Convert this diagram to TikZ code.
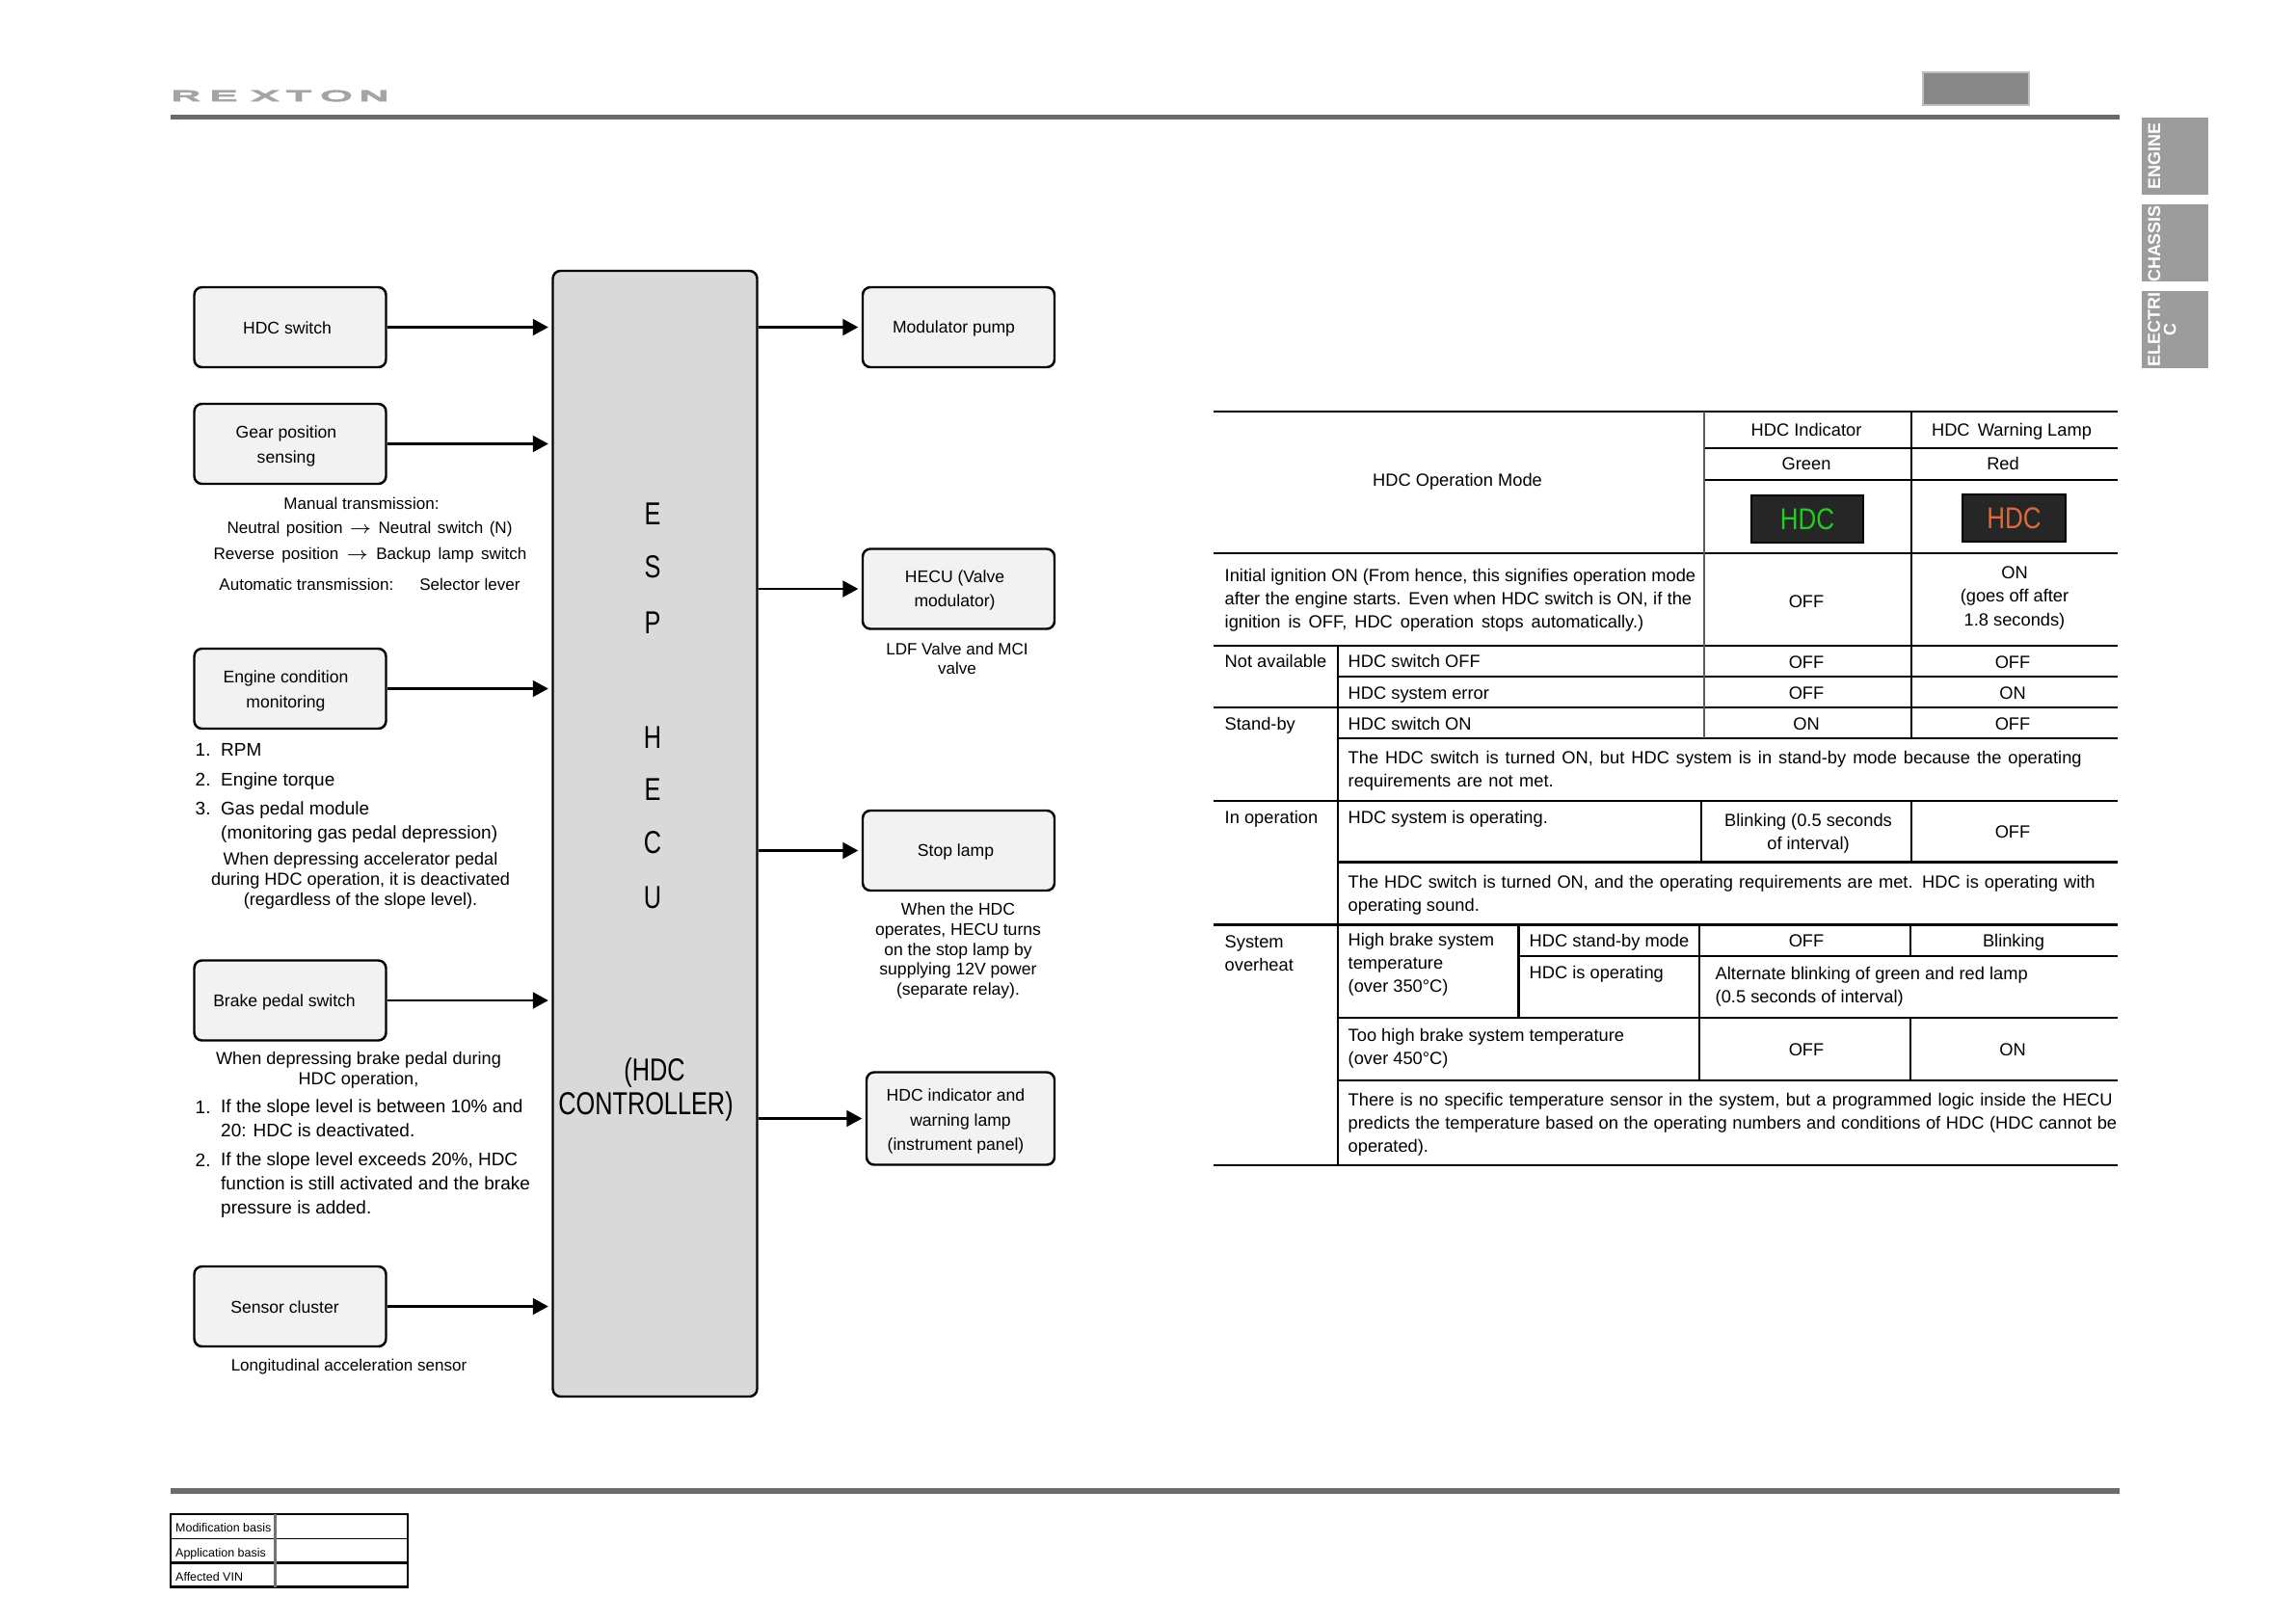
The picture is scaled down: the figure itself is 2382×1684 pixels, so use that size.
\documentclass[tikz,border=0pt]{standalone}
\usepackage{fontspec}
\usetikzlibrary{arrows.meta}
\setmainfont{Liberation Sans}
\newfontfamily\logofont[FakeBold=7]{Liberation Sans}
\definecolor{barcol}{HTML}{6B6B6B}
\definecolor{tabcol}{HTML}{9C9C9C}
\definecolor{logocol}{HTML}{A4A4A4}
\definecolor{unitcol}{HTML}{F2F2F2}
\definecolor{espcol}{HTML}{D9D9D9}
\definecolor{lampcol}{HTML}{262626}
\definecolor{grncol}{HTML}{22CC22}
\definecolor{redcol}{HTML}{DC6A3C}
\newcommand{\tallbox}[1]{\scalebox{1}[1.3]{#1}}
\newcommand{\fitline}[2]{\makebox[#1][s]{#2}}
\newcommand{\boxtop}[1]{\rule{0pt}{#1}}
\tikzset{
  unitbox/.style = {draw, fill=unitcol, line width=.7pt, rounded corners=.8mm, inner sep=0pt,
    minimum width=19.9mm, minimum height=8.3mm, align=center, font=\fontsize{5}{7.2}\selectfont},
  flow/.style = {line width=.6pt, -{Triangle[length=1.6mm, width=1.7mm]}, shorten >=.35mm},
  note/.style = {inner sep=0pt, align=center, font=\fontsize{5.15}{5.9}\selectfont},
  smallnote/.style = {note, font=\fontsize{4.85}{5.9}\selectfont},
  listtxt/.style = {inner sep=0pt, anchor=mid west, yshift=.2mm, font=\fontsize{5.4}{7.1}\selectfont},
  listblk/.style = {inner sep=0pt, anchor=west, align=left, font=\fontsize{5.4}{7.1}\selectfont},
  bigltr/.style = {inner sep=0pt, font=\fontsize{7.2}{9}\selectfont},
  celltxt/.style = {inner sep=0pt, anchor=mid west, yshift=.2mm, font=\fontsize{5.2}{6.83}\selectfont},
  cellblk/.style = {inner sep=0pt, anchor=west, align=left, font=\fontsize{5.2}{6.83}\selectfont},
  cellmid/.style = {inner sep=0pt, anchor=mid, yshift=.2mm, font=\fontsize{5.2}{6.83}\selectfont},
  cellmidblk/.style = {inner sep=0pt, align=center, font=\fontsize{5.2}{6.83}\selectfont},
  hrule/.style = {line width=.8pt},
  vrule/.style = {line width=.6pt},
  grayrule/.style = {line width=.5pt, draw=black!65},
  sidetab/.style = {fill=tabcol, draw=none, inner sep=0pt, minimum width=6.9mm, minimum height=8mm},
  tabtxt/.style = {inner sep=0pt, text=white, rotate=90, align=center, font=\fontsize{5.1}{4.7}\selectfont\bfseries},
  logoltr/.style = {inner sep=0pt, text=logocol, font=\fontsize{4.5}{5}\logofont},
  lampbox/.style = {fill=lampcol, draw=black, line width=.5pt, inner sep=0pt, font=\fontsize{7.4}{9}\selectfont},
  vintxt/.style = {inner sep=0pt, anchor=mid west, font=\fontsize{3.55}{4}\selectfont}
}
\begin{document}
\begin{tikzpicture}[x=.1mm, y=-.1mm]
  \useasboundingbox (0,0) rectangle (2382,1684);

  \fill[barcol] (177,118.5) rectangle (2199,124);
  \fill[barcol] (177,1544) rectangle (2199,1550);
  \draw[fill=black!47, draw=black!25, line width=.5pt] (1995,75) rectangle (2105,109);
  \foreach \ltr/\xx [count=\i] in {R/193,E/232,X/275,T/310,O/349,N/388}
    \node[logoltr] (logo\i) at (\xx,99.5) {\scalebox{2.6}[1]{\ltr}};

  \node[sidetab] (tabeng) at (2256.5,162) {};
  \node[sidetab] (tabcha) at (2256.5,252) {};
  \node[sidetab] (tabele) at (2256.5,342) {};
  \node[tabtxt] (txteng) at (2235,162) {ENGINE};
  \node[tabtxt] (txtcha) at (2235,253) {CHASSIS};
  \node[tabtxt, anchor=center] (txtele) at (2243,342) {ELECTRI\\C};

  \node[draw, fill=espcol, line width=.7pt, rounded corners=.8mm, inner sep=0pt,
    minimum width=21.2mm, minimum height=116.8mm] (espbox) at (679.5,865) {};
  \foreach \ltr/\yy [count=\i] in {E/533,S/588,P/646,H/765,E/819,C/874,U/931}
    \node[bigltr] (ltr\i) at (677,\yy) {\tallbox{\ltr}};
  \node[bigltr] (ctrlone) at (679,1112.5) {\tallbox{(HDC}};
  \node[bigltr] (ctrltwo) at (670,1147.5) {\tallbox{CONTROLLER)}};

  \node[unitbox] (hdcsw) at (301,339.5) {\boxtop{1.35mm}HDC switch\hspace*{.6mm}};
  \node[unitbox] (gearsn) at (301,460.5) {\boxtop{1.75mm}Gear position\hspace*{.8mm}\\sensing\hspace*{.8mm}};
  \node[unitbox] (enginemon) at (301,714.5) {\boxtop{1.75mm}Engine condition\hspace*{.9mm}\\monitoring\hspace*{.9mm}};
  \node[unitbox] (brakesw) at (301,1038) {\boxtop{1.65mm}Brake pedal switch\hspace*{1.2mm}};
  \node[unitbox] (sensorcl) at (301,1355.5) {\boxtop{1.35mm}Sensor cluster\hspace*{1.1mm}};
  \node[unitbox] (modpump) at (994.5,339.5) {\boxtop{1.65mm}Modulator pump\hspace*{1mm}};
  \node[unitbox] (hecuvalve) at (994.5,611) {\boxtop{1.6mm}HECU (Valve\hspace*{.8mm}\\modulator)\hspace*{.8mm}};
  \node[unitbox] (stoplamp) at (994.5,882.5) {\boxtop{1.65mm}Stop lamp\hspace*{.6mm}};
  \node[unitbox, minimum width=19.5mm, minimum height=9.6mm] (hdcind) at (996.5,1160.5)
    {\boxtop{1.9mm}HDC indicator and\hspace*{1mm}\\warning lamp\hspace*{1mm}\\(instrument panel)\hspace*{1mm}};

  \foreach \src in {hdcsw,gearsn,enginemon,brakesw,sensorcl}
    \draw[flow] (\src.east) -- (\src.east -| espbox.west);
  \foreach \dst in {modpump,hecuvalve,stoplamp,hdcind}
    \draw[flow] (\dst.west -| espbox.east) -- (\dst.west);

  \node[smallnote] (mantran) at (375,522) {Manual transmission:};
  \node[smallnote] (neutral) at (383.5,549.5) {\fitline{29.6mm}{Neutral position $\rightarrow$ Neutral switch (N)}};
  \node[smallnote] (reverse) at (384,576) {\fitline{32.5mm}{Reverse position $\rightarrow$ Backup lamp switch}};
  \node[smallnote] (autotran) at (383.5,606) {Automatic transmission:\hspace{2.7mm}Selector lever};

  \node[listtxt] (num1) at (202,777) {1.};
  \node[listtxt] (num2) at (202,808) {2.};
  \node[listtxt] (num3) at (202,838) {3.};
  \node[listtxt] (rpm) at (228.5,777) {RPM};
  \node[listtxt] (torque) at (228.5,808) {Engine torque};
  \node[listtxt] (gasmod) at (228.5,838) {Gas pedal module};
  \node[listtxt] (gasdep) at (228.5,863) {(monitoring gas pedal depression)};
  \node[note] (accnote) at (374,914) {When depressing accelerator pedal\\during HDC operation, it is deactivated\\(regardless of the slope level).};

  \node[note] (brakenote) at (372,1110.5) {When depressing brake pedal during\\HDC operation,};
  \node[listtxt] (num4) at (202,1148) {1.};
  \node[listblk] (slopeone) at (228.5,1160) {If the slope level is between 10\% and\\20: HDC is deactivated.};
  \node[listtxt] (num5) at (202,1203) {2.};
  \node[listblk] (slopetwo) at (228.5,1230) {If the slope level exceeds 20\%, HDC\\function is still activated and the brake\\pressure is added.};
  \node[smallnote] (longnote) at (362,1418) {Longitudinal acceleration sensor};

  \node[smallnote] (ldfnote) at (993,683.5) {LDF Valve and MCI\\valve};
  \node[note, font=\fontsize{5}{5.9}\selectfont] (stopnote) at (994,986.5) {When the HDC\\operates, HECU turns\\on the stop lamp by\\supplying 12V power\\(separate relay).};

  \draw[hrule] (1259,427) -- (2197,427);
  \draw[hrule] (1768,465) -- (2197,465);
  \draw[hrule] (1768,498) -- (2197,498);
  \draw[hrule] (1259,574) -- (2197,574);
  \draw[hrule] (1259,670) -- (2197,670);
  \draw[hrule] (1388,702) -- (2197,702);
  \draw[hrule] (1259,734) -- (2197,734);
  \draw[hrule] (1388,766) -- (2197,766);
  \draw[hrule] (1259,831) -- (2197,831);
  \draw[hrule] (1388,894.5) -- (2197,894.5);
  \draw[hrule] (1259,959.5) -- (2197,959.5);
  \draw[hrule] (1575.5,992) -- (2197,992);
  \draw[hrule] (1388,1056) -- (2197,1056);
  \draw[hrule] (1388,1121) -- (2197,1121);
  \draw[hrule] (1259,1209) -- (2197,1209);
  \draw[vrule] (1388,670) -- (1388,1209);
  \draw[grayrule] (1768,427) -- (1768,766);
  \draw[vrule] (1983,427) -- (1983,766);
  \draw[vrule] (1765,831) -- (1765,894.5);
  \draw[vrule] (1983,831) -- (1983,894.5);
  \draw[vrule] (1575.5,959.5) -- (1575.5,1056);
  \draw[vrule] (1763,959.5) -- (1763,1121);
  \draw[vrule] (1982,959.5) -- (1982,992);
  \draw[vrule] (1982,1056) -- (1982,1121);

  \node[cellmid] (colind) at (1874,445) {HDC Indicator};
  \node[cellmid] (colwarn) at (2087,445) {HDC\ \,Warning Lamp};
  \node[cellmid] (colgreen) at (1874,480) {Green};
  \node[cellmid] (colred) at (2078,480) {Red};
  \node[cellmid] (colmode) at (1512,497) {HDC Operation Mode};
  \node[lampbox, text=grncol, minimum width=11.6mm, minimum height=4.9mm] (lampgrn) at (1875,538.5) {\scalebox{1}[1.2]{HDC}};
  \node[lampbox, text=redcol, minimum width=10.7mm, minimum height=4.9mm] (lampred) at (2089.5,537.5) {\scalebox{1}[1.2]{HDC}};

  \node[cellblk] (initmode) at (1270,623) {\fitline{48.85mm}{Initial ignition ON (From hence, this signifies operation mode}\\\fitline{48.45mm}{after the engine starts. Even when HDC switch is ON, if the}\\\fitline{43.45mm}{ignition is OFF, HDC operation stops automatically.)}};
  \node[cellmid] (initind) at (1874,623) {OFF};
  \node[cellmidblk] (initwarn) at (2090,620.5) {ON\\(goes off after\\1.8 seconds)};

  \node[celltxt] (notavail) at (1270,685) {Not available};
  \node[celltxt] (swoff) at (1398,685) {HDC switch OFF};
  \node[cellmid] (swoffind) at (1874,686) {OFF};
  \node[cellmid] (swoffwarn) at (2088,686) {OFF};
  \node[celltxt] (syserr) at (1398,718) {HDC system error};
  \node[cellmid] (syserrind) at (1874,718) {OFF};
  \node[cellmid] (syserrwarn) at (2088,718) {ON};
  \node[celltxt] (standby) at (1270,750) {Stand-by};
  \node[celltxt] (swon) at (1398,750) {HDC switch ON};
  \node[cellmid] (swonind) at (1874,750) {ON};
  \node[cellmid] (swonwarn) at (2088,750) {OFF};
  \node[cellblk] (standnote) at (1398,800) {\fitline{76.1mm}{The HDC switch is turned ON, but HDC system is in stand-by mode because the operating}\\\fitline{21.3mm}{requirements are not met.}};

  \node[celltxt] (inoper) at (1270,847) {In operation};
  \node[celltxt] (sysoper) at (1398,847) {HDC system is operating.};
  \node[cellmidblk] (blinkind) at (1876,865) {Blinking (0.5 seconds\\of interval)};
  \node[cellmid] (operwarn) at (2088,862.5) {OFF};
  \node[cellblk] (opernote) at (1398,928.5) {\fitline{77.5mm}{The HDC switch is turned ON, and the operating requirements are met. HDC is operating with}\\operating sound.};

  \node[cellblk] (overheat) at (1270,989) {System\\overheat};
  \node[cellblk] (hightemp) at (1398,1001) {High brake system\\temperature\\(over 350°C)};
  \node[celltxt] (hdcstand) at (1586,975.5) {HDC stand-by mode};
  \node[cellmid] (standind) at (1874,975.5) {OFF};
  \node[cellmid] (standwarn) at (2089,975.5) {Blinking};
  \node[celltxt] (hdcoper) at (1586,1008) {HDC is operating};
  \node[cellblk] (altblink) at (1779,1024) {Alternate blinking of green and red lamp\\(0.5 seconds of interval)};
  \node[cellblk] (toohigh) at (1398,1088) {Too high brake system temperature\\(over 450°C)};
  \node[cellmid] (toohighind) at (1874,1088) {OFF};
  \node[cellmid] (toohighwarn) at (2088,1088) {ON};
  \node[cellblk] (nosensor) at (1398,1167) {\fitline{79.3mm}{There is no specific temperature sensor in the system, but a programmed logic inside the HECU}\\\fitline{79.75mm}{predicts the temperature based on the operating numbers and conditions of HDC (HDC cannot be}\\operated).};

  \draw[line width=.6pt] (177,1571) rectangle (423,1646.5);
  \draw[line width=.45pt] (177,1596.5) -- (423,1596.5);
  \draw[line width=.6pt] (177,1621.5) -- (423,1621.5);
  \draw[line width=.6pt, draw=black!55] (285.5,1571) -- (285.5,1647);
  \node[vintxt] (modbasis) at (181.5,1580.5) {Modification basis};
  \node[vintxt] (appbasis) at (181.5,1606.5) {Application basis};
  \node[vintxt] (vinlabel) at (181.5,1631) {Affected VIN};
\end{tikzpicture}
\end{document}
